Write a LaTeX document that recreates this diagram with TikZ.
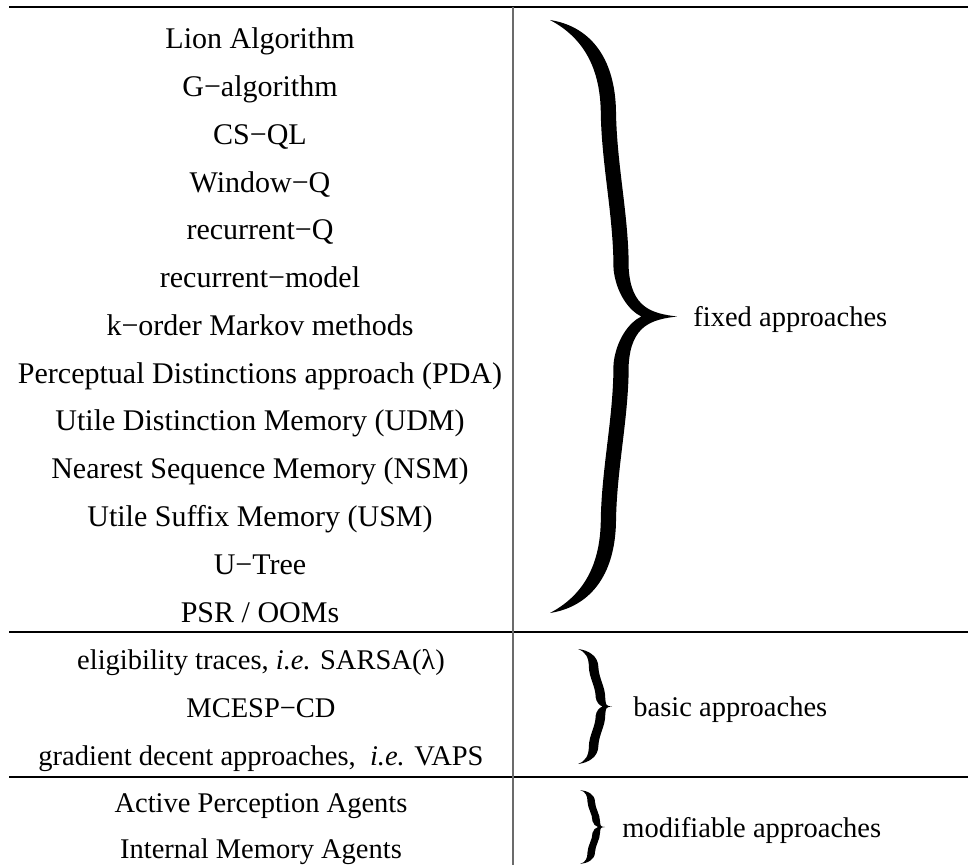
\documentclass[tikz,border=0pt]{standalone}
\usepackage{fontspec}
\setmainfont{Liberation Serif}

% Filled right curly brace.
% #1,#2: left x / top y; #3,#4: width / height;
% #5: stem outer edge near the ends, #6: stem outer edge near the middle,
% #7: stem thickness (all as fractions of the width)
\newcommand{\curlybrace}[7]{%
  \begin{scope}[shift={(#1,#2)}, xscale=#3, yscale=#4]
    \pgfmathsetmacro\cba{#5}\pgfmathsetmacro\cbb{#6}%
    \pgfmathsetmacro\cia{#5-#7}\pgfmathsetmacro\cib{#6-#7}%
    \fill[black]
      (0,0) .. controls (0.3,0.01) and (\cba,0.06) .. (\cba,0.16)
      .. controls (\cba+0.01,0.25) and (\cbb,0.33) .. (\cbb,0.42)
      .. controls (\cbb+0.02,0.485) and (0.8,0.495) .. (1,0.5)
      .. controls (0.8,0.505) and (\cbb+0.02,0.515) .. (\cbb,0.58)
      .. controls (\cbb,0.67) and (\cba+0.01,0.75) .. (\cba,0.84)
      .. controls (\cba,0.94) and (0.3,0.99) .. (0,1)
      .. controls (0.22,0.975) and (\cia,0.93) .. (\cia,0.84)
      .. controls (\cia+0.01,0.75) and (\cib,0.67) .. (\cib,0.58)
      .. controls (\cib+0.02,0.54) and (0.62,0.51) .. (0.72,0.5)
      .. controls (0.62,0.49) and (\cib+0.02,0.46) .. (\cib,0.42)
      .. controls (\cib,0.33) and (\cia+0.01,0.25) .. (\cia,0.16)
      .. controls (\cia,0.07) and (0.22,0.025) .. (0,0) -- cycle;
  \end{scope}}

\tikzset{
  txt/.style={inner sep=0pt, font=\fontsize{14.25pt}{17pt}\selectfont},
  lefttxt/.style={txt, anchor=base},
  bigtxt/.style={lefttxt, font=\fontsize{15pt}{18pt}\selectfont},
  righttxt/.style={txt, anchor=base west},
  hrule/.style={line width=0.75pt, draw=black},
  vrule/.style={line width=1pt, draw=black!58},
}

\begin{document}
\begin{tikzpicture}[x=0.5pt, y=-0.5pt]
  \fill[white] (0,0) rectangle (968,865);
  \useasboundingbox (0,0) rectangle (968,865);

  % table rules
  \coordinate (tl) at (9,7);    \coordinate (tr) at (968,7);
  \coordinate (ml) at (9,632);  \coordinate (mr) at (968,632);
  \coordinate (bl) at (9,777);  \coordinate (br) at (968,777);
  \coordinate (vt) at (513,7);  \coordinate (vb) at (513,865);
  \draw[hrule] (tl) -- (tr);
  \draw[hrule] (ml) -- (mr);
  \draw[hrule] (bl) -- (br);
  \draw[vrule] (vt) -- (vb);

  % fixed approaches
  \node[bigtxt] (f1)  at (260,49)    {Lion Algorithm};
  \node[bigtxt] (f2)  at (260,96.75) {G−algorithm};
  \node[bigtxt] (f3)  at (260,144.5) {CS−QL};
  \node[bigtxt] (f4)  at (260,192.25){Window−Q};
  \node[bigtxt] (f5)  at (260,240)   {recurrent−Q};
  \node[bigtxt] (f6)  at (260,287.75){recurrent−model};
  \node[bigtxt] (f7)  at (260,335.5) {k−order Markov methods};
  \node[bigtxt] (f8)  at (260,383.25){Perceptual Distinctions approach (PDA)};
  \node[bigtxt] (f9)  at (260,431)   {Utile Distinction Memory (UDM)};
  \node[bigtxt] (f10) at (260,478.75){Nearest Sequence Memory (NSM)};
  \node[bigtxt] (f11) at (260,526.5) {Utile Suffix Memory (USM)};
  \node[bigtxt] (f12) at (260,574.25){U−Tree};
  \node[bigtxt] (f13) at (260,622)   {PSR / OOMs};

  % basic approaches
  \node[lefttxt] (b1) at (261,669) {eligibility traces, \textit{i.e.} SARSA(λ)};
  \node[lefttxt] (b2) at (261,717) {MCESP−CD};
  \node[lefttxt] (b3) at (261,765) {gradient decent approaches, \ \textit{i.e.} VAPS};

  % modifiable approaches
  \node[lefttxt] (m1) at (261,812) {Active Perception Agents};
  \node[lefttxt] (m2) at (261,858) {Internal Memory Agents};

  % braces and group labels
  \curlybrace{550}{20}{127}{593}{0.52}{0.62}{0.12}
  \node[righttxt] (gfixed) at (693,327) {fixed approaches};

  \curlybrace{578}{649}{34}{115}{0.6}{0.8}{0.28}
  \node[righttxt] (gbasic) at (633,716) {basic approaches};

  \curlybrace{580}{790}{25}{74}{0.6}{0.8}{0.3}
  \node[righttxt] (gmod) at (622,837) {modifiable approaches};
\end{tikzpicture}
\end{document}
